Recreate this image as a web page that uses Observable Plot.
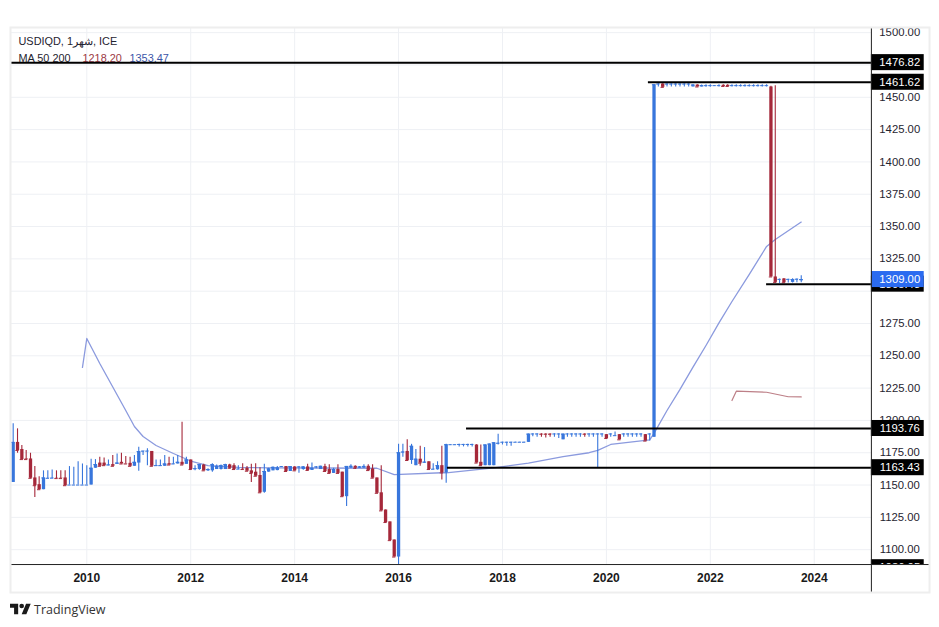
<!DOCTYPE html>
<html>
<head>
<meta charset="utf-8">
<script src="https://cdn.jsdelivr.net/npm/d3@7"></script>
<script src="https://cdn.jsdelivr.net/npm/@observablehq/plot@0.6"></script>
<style>
html,body{margin:0;padding:0;background:#fff;width:939px;height:627px;overflow:hidden}
#chart svg{display:block}
#brand{position:absolute;left:10px;top:602px;display:flex;align-items:center;gap:3px;font:12.5px "Open Sans","Liberation Sans",sans-serif;color:#333;height:15px}
</style>
</head>
<body>
<div id="chart"></div>
<div id="brand"><svg width="21" height="15" viewBox="0 3 36 22"><path fill="#1a1a1a" d="M14 22H7V11H0V4h14v18zM28 22h-8l7.5-18h8L28 22z"/><circle fill="#1a1a1a" cx="20" cy="8" r="4"/></svg><span>TradingView</span></div>
<script>
// Monthly candles, first month = Aug 2008 (index 0)
const opens = [
1152,1183,1177.5,1170.2,1170.2,1155.5,1150.3,1146.4,1155,1155,
1155.3,1155.3,1155.5,1150,1150,1150,1150,1150,1150,1163,
1167,1167,1165,1165.8,1166,1167.6,1166.5,1166.8,1164.5,1167,
1176,1176,1176,1164.5,1164.5,1164.5,1166.5,1166,1166.3,1167.6,
1166,1169.4,1162,1162,1165.5,1161,1161,1162,1162,1162,
1165.6,1165,1162,1162.3,1163,1161,1160,1157.4,1144.4,1160,
1161,1161.2,1164,1164.3,1160.5,1164,1163.8,1162,1164,1161.3,
1163.8,1162,1164.3,1162,1159,1162,1160,1141,1163,1164.5,
1163,1163,1164.5,1162.5,1155.5,1144,1130.7,1121.5,1107.5,1094.3,
1175,1176,1169,1165,1170,1167,1168,1162,1161.8,1165,
1159.4,1181,1181,1181.2,1181.2,1181.2,1181.2,1181,1167.6,1165,
1165,1165,1182,1183,1183,1183,1183,1183,1183,1183,
1189.4,1189.4,1189.5,1189.5,1189.5,1189.4,1189.4,1185,1189.4,1189.4,
1189.4,1189.4,1189.5,1189.4,1189.4,1189.4,1189.4,1189,1189.4,1188,
1189,1189.4,1189.4,1189.4,1189.4,1189.4,1189,1189.4,1187,1460,
1460.3,1460,1460,1460,1460,1460,1460,1458,1459.5,1458,
1458.7,1458.7,1458.8,1458.7,1459.3,1459.3,1458.7,1458.7,1458.7,1458.7,
1458.7,1458.7,1458.7,1458.7,1458.7,1458,1311,1309,1309.5,1309,
1306.8,1309,1308];
const highs = [
1197.4,1193.5,1180.6,1176.7,1174.6,1164.3,1156.5,1161,1161,1161.7,
1161,1161,1161,1164.3,1163.7,1168,1166.3,1165,1170,1169.7,
1171.5,1171,1169.4,1172.8,1174,1174.6,1172,1171.5,1172.8,1179.3,
1176.2,1178,1176,1169.4,1169.4,1172.8,1171.5,1171.5,1172.8,1198.5,
1171.5,1169.4,1165,1165.8,1166,1162.6,1166.5,1165.5,1165.5,1166,
1166,1166.4,1165,1166.4,1164.4,1166,1166.4,1163.3,1166,1163,
1163.9,1164.4,1164.4,1164.4,1164.4,1164.2,1164.4,1164.4,1166,1167,
1164.4,1164.6,1166,1165.8,1163,1165.8,1160,1164.4,1165.7,1165,
1164.4,1165.7,1165.7,1165.7,1155.5,1165,1130.7,1121.5,1107.5,1181.5,
1181.5,1185,1181.5,1177.6,1180,1179,1168,1166.4,1168,1180,
1181.5,1181.3,1181.3,1181.5,1181.5,1181.5,1181.5,1181.2,1181,1181,
1181.7,1182.7,1189.4,1183.2,1183.2,1183.2,1183.2,1183.2,1183.2,1189.4,
1189.6,1189.6,1189.6,1189.6,1189.6,1189.6,1189.6,1189.4,1189.6,1189.6,
1189.6,1189.6,1189.6,1189.6,1189.6,1189.6,1189.6,1189.2,1189.6,1191,
1189.2,1189.6,1189.6,1189.6,1189.6,1189.6,1189.2,1189.6,1459.7,1460.5,
1460.5,1460.5,1460.5,1460.5,1460.5,1460.5,1460.5,1459.7,1459.7,1459.5,
1459.8,1459.8,1459,1459.8,1459.8,1459.8,1459.8,1459.8,1459.8,1459.8,
1459.8,1459.8,1459.8,1459.8,1459.8,1458.5,1459,1309.5,1309.8,1309.3,
1309.6,1309.5,1312];
const lows = [
1152,1174.6,1169.7,1169.7,1155.2,1140.4,1146.4,1146.4,1155,1155,
1155,1155,1149.5,1150,1150,1150,1150,1150,1150,1163,
1164.5,1165,1165,1164.5,1166,1166.3,1166.3,1164.5,1164.5,1160.6,
1172.8,1165,1164.5,1164.5,1164.5,1164.5,1165.5,1166,1166.3,1165.5,
1166,1162,1161,1161.5,1161,1160.4,1160,1162,1161.6,1162,
1162.5,1162,1162,1162,1160.7,1152,1156.8,1144,1143.6,1160,
1161,1161,1163.6,1160.5,1160.5,1161,1159.2,1161.5,1161.3,1161.3,
1162.6,1162,1160.5,1159,1159,1159,1141,1133.5,1163,1162,
1163,1163,1161.2,1155.3,1143.6,1130,1121,1107,1094.3,1088.6,
1171.6,1169,1166,1165,1164.6,1167,1162,1162,1161.5,1154,
1151.4,1181,1181,1179.5,1179.5,1179.5,1179.5,1167,1165,1165,
1165,1165,1181,1181,1180,1180,1183,1183,1183,1183,
1187.4,1187,1187,1186.5,1187,1187,1186,1185,1187,1187,
1187,1187,1187,1187,1187,1163,1187,1186,1187,1188,
1185,1187,1187,1187,1187,1187,1184,1184,1186.8,1458,
1457.7,1458,1458,1458,1458,1458,1458,1458,1458,1458,
1457.8,1457.8,1458.6,1458,1458,1458,1458,1458,1458,1458,
1458,1458,1458,1458,1458,1311,1306.5,1306,1306.4,1306.4,
1306.4,1306.5,1306.5];
const closes = [
1183,1176.7,1169.7,1169.7,1155.2,1149.5,1146.4,1155.5,1155.2,1155.3,
1155,1155,1149.5,1150,1150,1150,1150,1150,1163,1165.8,
1164.5,1165,1165.5,1164.5,1167,1166.3,1166.3,1164.5,1167.6,1175.9,
1176.2,1176.2,1164.5,1165,1165,1166.3,1165.5,1166.3,1167.6,1165.5,
1169.4,1162,1162.6,1165.8,1161,1162,1165.8,1164.5,1165,1165.8,
1163,1162,1162.3,1162,1160.7,1159,1156.8,1144,1160.5,1162.5,
1163.7,1163.3,1164.3,1160.5,1164.3,1161,1164,1164,1161.3,1163,
1164,1164.5,1160.5,1159,1162,1159,1141,1164.4,1164.5,1163,
1164,1164.4,1161.2,1155.3,1143.6,1130,1121,1107,1094.3,1175,
1175.5,1169,1180,1170,1167,1167.7,1162,1162.2,1165,1159.4,
1181.2,1181.2,1181.2,1181.4,1181.4,1181.4,1181.4,1167,1165,1181,
1181.7,1182.7,1182.3,1183.1,1183.1,1183.1,1183.1,1183.1,1183.1,1189.4,
1189.5,1189.5,1189.3,1189.3,1189.3,1189.5,1189.5,1189.4,1189.5,1189.5,
1189.5,1189.5,1189.3,1189.5,1189.5,1189.5,1189.5,1186,1189.5,1188.2,
1185,1189.5,1189.5,1189.5,1189.5,1189.5,1184,1189.5,1459.7,1460.2,
1457.7,1460.2,1460.2,1460.2,1460.2,1460.2,1460.2,1459.5,1458,1459,
1459,1459,1459,1459,1458.4,1458.4,1459,1459,1459,1459,
1459,1459,1459,1459,1459,1311,1306.8,1309.1,1306.5,1309.1,
1309,1309.2,1309];

// Moving averages (month index, value)
const slowIdx = [16,17,20,23,26,28,30,33,37,41,45,52,60,70,84,88,99,100,111,119,127,133,135,138,147,148,151,154,157,160,163,166,170,174,176,182];
const slowVal = [1241,1263.4,1244,1225.9,1207.7,1195.3,1187.6,1180.6,1174.4,1168.6,1165.1,1163.6,1163.3,1163.2,1163,1158,1159.5,1159.5,1163.3,1167,1172,1175,1176.8,1181.4,1185,1190,1207.7,1224,1241.2,1258,1275.5,1292,1313,1334.6,1340,1353.47];
const fastIdx = [166,167,174,179,182];
const fastVal = [1215.4,1222.6,1221.8,1218.3,1218.2];

// Price lines: level, first month index
const lineLevels = [1476.82,1461.62,1193.76,1163.43,1305.43];
const lineStarts = [-0.62,146.7,104.7,100.3,174];
const lastPrice = 1309;
const hiddenLabel = 1086.05;

const priceTicks = [1100,1125,1150,1175,1200,1225,1250,1275,1300,1325,1350,1375,1400,1425,1450,1475,1500];
// 1300 and 1475 sit fully behind price tags in the reference: grid line only
const priceLabels = [1100,1125,1150,1175,1200,1225,1250,1275,1325,1350,1375,1400,1425,1450,1500];
const yearTicks = [2010,2012,2014,2016,2018,2020,2022,2024];
const yearIdx = [17,41,65,89,113,137,161,185];

const months = opens.map((o,i)=>({i,o,h:highs[i],l:lows[i],c:closes[i],up:closes[i]>=opens[i]}));
const BLUE="#3876dc",RED="#a5283a",GRID="#eef0f4";
const xL=-0.62,xAxis=198.2,xEnd=211.62,xLbl=204.75,xBox=210.4,yTop=1504.0,yFoot=1066.87,yAxis=1088.5,boxH=6.2;
const font="Liberation Sans";
const cBar=d=>d.up?BLUE:RED;
const slow=slowIdx.map((x,k)=>({x,y:slowVal[k]}));
const fast=fastIdx.map((x,k)=>({x,y:fastVal[k]}));
const lines=lineLevels.map((y,k)=>({y,x:lineStarts[k]}));

const hdr=(t,dx,dy,fill)=>Plot.text([t],{frameAnchor:"top-left",dx,dy,fill,textAnchor:"start",lineAnchor:"middle",fontSize:10.9,fontFamily:font});

const plot=Plot.plot({
  width:939,height:627,marginLeft:10,marginRight:10,marginTop:27,marginBottom:35,
  x:{domain:[xL,xEnd],axis:null},
  y:{domain:[yFoot,yTop],axis:null},
  style:{background:"#fff"},
  marks:[
    Plot.ruleY(priceTicks,{y:d=>d,x1:xL,x2:xAxis,stroke:GRID,strokeWidth:1}),
    Plot.ruleX(yearIdx,{x:d=>d,y1:yAxis,y2:yTop,stroke:GRID,strokeWidth:1}),
    Plot.line(fast,{x:"x",y:"y",stroke:"#bd7f87",strokeWidth:1.2}),
    Plot.line(slow,{x:"x",y:"y",stroke:"#8b9ade",strokeWidth:1.3}),
    Plot.ruleX(months,{x:"i",y1:"l",y2:"h",stroke:cBar,strokeWidth:1.1}),
    Plot.ruleX(months,{x:"i",y1:"o",y2:"c",stroke:cBar,strokeWidth:3.3}),
    Plot.ruleY(months,{y:"c",x1:d=>d.i-0.38,x2:d=>d.i+0.38,stroke:cBar,strokeWidth:1}),
    hdr("USDIQD, 1شهر, ICE",8,14,"#1f2430"),
    hdr("MA 50 200",8,31,"#1f2430"),
    hdr("1218.20",72,31,"#9c3a44"),
    hdr("1353.47",119,31,"#3a55a8"),
    Plot.ruleY(lines,{y:"y",x1:"x",x2:xAxis,stroke:"#000",strokeWidth:2}),
    // right price panel
    Plot.text(priceLabels,{x:xLbl,y:d=>d,text:d=>d.toFixed(2),fill:"#1f2430",fontSize:11.3,fontFamily:font,lineAnchor:"middle"}),
    Plot.rect(lineLevels,{x1:xAxis,x2:xBox,y1:d=>d-boxH,y2:d=>d+boxH,fill:"#000"}),
    Plot.text(lineLevels,{x:xLbl,y:d=>d,text:d=>d.toFixed(2),fill:"#fff",fontSize:11.3,fontFamily:font,lineAnchor:"middle"}),
    Plot.rect([hiddenLabel],{x1:xAxis,x2:xBox,y1:d=>d-boxH,y2:d=>d+boxH,fill:"#000"}),
    Plot.text([hiddenLabel],{x:xLbl,y:d=>d,text:d=>d.toFixed(2),fill:"#fff",fontSize:11.3,fontFamily:font,lineAnchor:"middle"}),
    Plot.rect([lastPrice],{x1:xAxis,x2:xBox,y1:d=>d-boxH,y2:d=>d+boxH,fill:"#2b6bf0"}),
    Plot.text([lastPrice],{x:xLbl,y:d=>d,text:d=>d.toFixed(2),fill:"#fff",fontSize:11.3,fontFamily:font,lineAnchor:"middle"}),
    // bottom time panel
    Plot.rect([0],{x1:xL,x2:xEnd,y1:yFoot,y2:yAxis,fill:"#fff"}),
    Plot.text(yearTicks,{x:(d,k)=>yearIdx[k],y:1078,text:d=>String(d),fill:"#1a1a1a",fontSize:12,fontWeight:"bold",fontFamily:font,lineAnchor:"middle"}),
    Plot.ruleY([yAxis],{x1:xL,x2:xEnd,stroke:"#222",strokeWidth:1}),
    Plot.ruleX([xAxis],{y1:yFoot,y2:yTop,stroke:"#222",strokeWidth:1}),
    Plot.frame({stroke:"#eeeeee",strokeWidth:2})
  ]
});
document.getElementById("chart").append(plot);
</script>
</body>
</html>
